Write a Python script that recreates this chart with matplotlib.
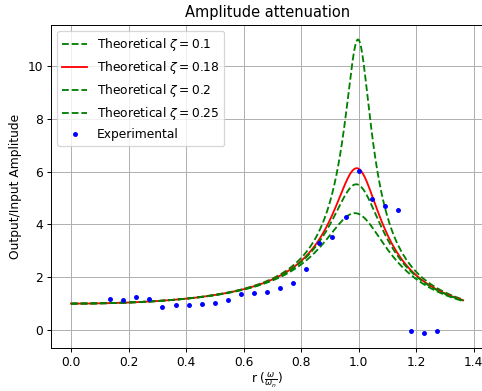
import numpy as np
import matplotlib
matplotlib.use('Agg')
import matplotlib.pyplot as plt

# damping ratios for the theoretical curves
zetas = [0.1, 0.18, 0.2, 0.25]
styles = ['g--', 'r-', 'g--', 'g--']

# experimental points
r_exp = [3/22, 4/22, 5/22, 6/22, 7/22, 8/22, 9/22, 10/22, 11/22, 12/22, 13/22,
         14/22, 15/22, 16/22, 17/22, 18/22, 19/22, 20/22, 21/22, 22/22, 23/22,
         24/22, 25/22, 26/22, 27/22, 28/22]
amp_exp = [1.16, 1.12, 1.26, 1.16, 0.87, 0.94, 0.94, 0.98, 1.04, 1.12, 1.36,
           1.39, 1.43, 1.59, 1.79, 2.32, 3.30, 3.51, 4.27, 6.01, 4.95, 4.68,
           4.56, -0.02, -0.11, -0.02]

r_max = 30/22


def amplitude(r, zeta):
    # amplitude ratio of a damped single-dof system
    return 1/np.sqrt((1 - r**2)**2 + (0.91*zeta*r)**2)


r = np.linspace(0, r_max, 600)

dpi = 88
fig = plt.figure(figsize=(482/dpi, 391/dpi), dpi=dpi)
ax = fig.add_axes([0.1066, 0.111, 0.895, 0.8256])

for zeta, st in zip(zetas, styles):
    ax.plot(r, amplitude(r, zeta), st, label=r'Theoretical $\zeta = $' + str(zeta))

ax.plot(r_exp, amp_exp, 'b.', label='Experimental')

ax.set_xlabel(r'r ($\frac{\omega}{\omega_n}$)', labelpad=1.5)
ax.set_ylabel('Output/Input Amplitude')
ax.set_title('Amplitude attenuation')
ax.grid(True)
ax.legend(loc='upper left')

fig.savefig('out.png', dpi=dpi)
